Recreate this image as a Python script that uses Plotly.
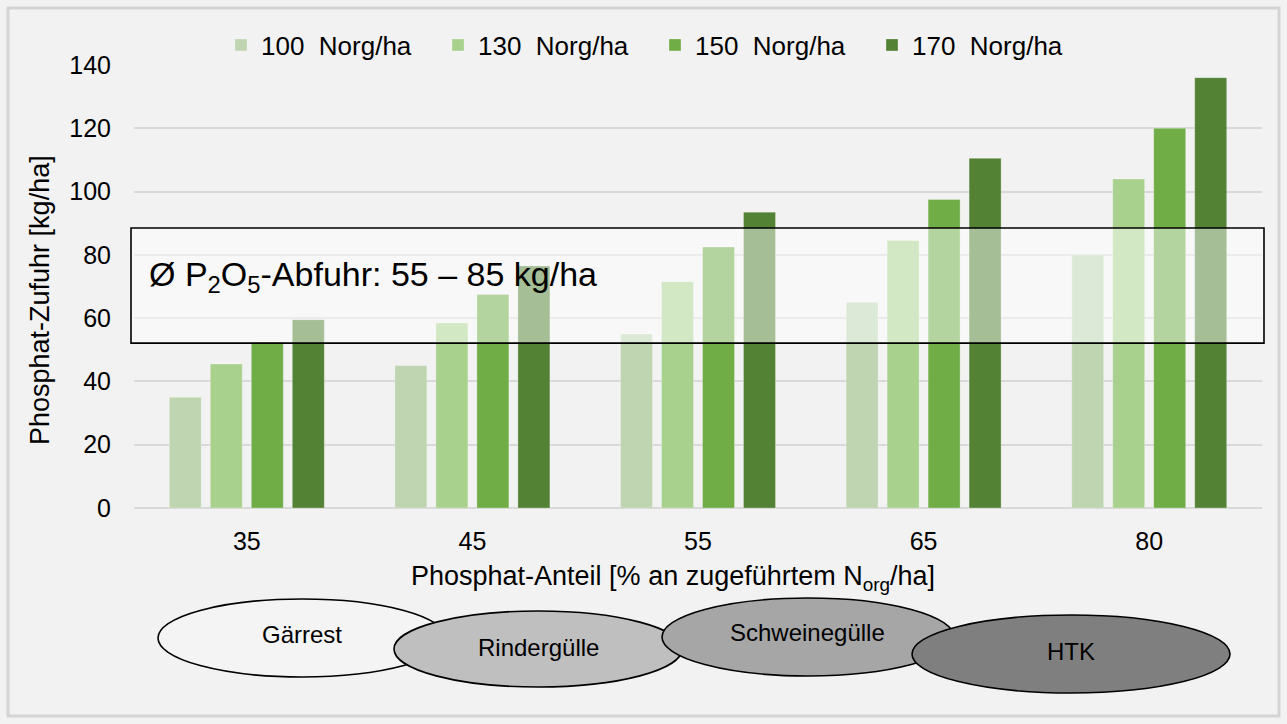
import plotly.graph_objects as go

# ---- data -------------------------------------------------------------
categories = ["35", "45", "55", "65", "80"]          # phosphate share [% of N_org]
series_names = ["100  Norg/ha", "130  Norg/ha", "150  Norg/ha", "170  Norg/ha"]
values_100 = [35, 45, 55, 65, 80]
values_130 = [45.5, 58.5, 71.5, 84.5, 104]
values_150 = [52.5, 67.5, 82.5, 97.5, 120]
values_170 = [59.5, 76.5, 93.5, 110.5, 136]
y_ticks = [0, 20, 40, 60, 80, 100, 120, 140]

band_label = "Ø P<sub>2</sub>O<sub>5</sub>-Abfuhr: 55 – 85 kg/ha"
manure_types = ["Gärrest", "Rindergülle", "Schweinegülle", "HTK"]

# ---- styling ------------------------------------------------------------
FONT = "Liberation Sans, Arial, sans-serif"
BG = "#f2f2f2"
GRID = "#d9d9d9"
bar_colors = ["#bfd5b2", "#a9d18e", "#70ad47", "#548235"]
ellipse_fills = ["#f4f4f4", "#bfbfbf", "#a6a6a6", "#7f7f7f"]

W, H = 1287, 724
PLOT_L, PLOT_R, PLOT_T, PLOT_B = 134, 1262, 65, 508
BAND_Y0, BAND_Y1 = 52.1, 88.5


def px(x):
    """pixel x -> paper x"""
    return (x - PLOT_L) / (PLOT_R - PLOT_L)


def py(y):
    """pixel y (from top) -> paper y"""
    return (PLOT_B - y) / (PLOT_B - PLOT_T)


fig = go.Figure()
for name, vals, col in zip(series_names,
                           [values_100, values_130, values_150, values_170],
                           bar_colors):
    fig.add_trace(go.Bar(x=categories, y=vals, name=name,
                         marker=dict(color=col,
                                     line=dict(width=0.8, color="rgba(255,255,255,0.35)"))))

shapes = []
# outer chart frame
shapes.append(dict(type="rect", xref="paper", yref="paper",
                   x0=px(8), x1=px(1279), y0=py(716), y1=py(8),
                   line=dict(color="#d4d4d4", width=3), layer="below"))
# translucent band for the average P2O5 removal
shapes.append(dict(type="rect", xref="paper", yref="y",
                   x0=px(131), x1=px(1264), y0=BAND_Y0, y1=BAND_Y1,
                   fillcolor="rgba(255,255,255,0.48)",
                   line=dict(color="#000000", width=1.6), layer="above"))

# manure-type ellipses: (cx, cy, rx, ry) in pixels
ellipse_geom = [(302, 638, 144, 39), (538, 649, 144, 38),
                (808, 637, 146, 39), (1071, 654, 159, 39)]
text_dy = [-4, -2, -5, -3]
annotations = []
for label, (cx, cy, rx, ry), fill, dy in zip(manure_types, ellipse_geom,
                                             ellipse_fills, text_dy):
    shapes.append(dict(type="circle", xref="paper", yref="paper",
                       x0=px(cx - rx), x1=px(cx + rx),
                       y0=py(cy + ry), y1=py(cy - ry),
                       fillcolor=fill, line=dict(color="#000000", width=1.6),
                       layer="above"))
    annotations.append(dict(xref="paper", yref="paper", x=px(cx), y=py(cy + dy),
                            text=label, showarrow=False,
                            font=dict(family=FONT, size=24, color="#000000"),
                            xanchor="center", yanchor="middle"))

annotations.append(dict(xref="paper", yref="paper", x=px(147), y=py(276),
                        text=band_label, showarrow=False,
                        font=dict(family=FONT, size=34, color="#000000"),
                        xanchor="left", yanchor="middle"))
annotations.append(dict(xref="paper", yref="paper", x=px(673), y=py(578),
                        text="Phosphat-Anteil [% an zugeführtem N<sub>org</sub>/ha]",
                        showarrow=False,
                        font=dict(family=FONT, size=27, color="#000000"),
                        xanchor="center", yanchor="middle"))
annotations.append(dict(xref="paper", yref="paper", x=px(40), y=py(300),
                        text="Phosphat-Zufuhr [kg/ha]", textangle=-90,
                        showarrow=False,
                        font=dict(family=FONT, size=27, color="#000000"),
                        xanchor="center", yanchor="middle"))

fig.update_layout(
    width=W, height=H,
    margin=dict(l=PLOT_L, r=W - PLOT_R, t=PLOT_T, b=H - PLOT_B, pad=0),
    paper_bgcolor=BG, plot_bgcolor=BG,
    barmode="group", bargap=0.273, bargroupgap=0.22,
    font=dict(family=FONT, size=25, color="#000000"),
    showlegend=True,
    legend=dict(orientation="h", x=px(655), y=py(45),
                xanchor="center", yanchor="middle",
                font=dict(family=FONT, size=26, color="#000000"),
                bgcolor="rgba(0,0,0,0)", itemclick=False,
                entrywidth=172, entrywidthmode="pixels"),
    xaxis=dict(type="category", showgrid=False, zeroline=False,
               showline=False, ticks="", ticklabelstandoff=16,
               tickfont=dict(family=FONT, size=25, color="#000000")),
    yaxis=dict(range=[0, 140], tickvals=y_ticks, showgrid=True,
               gridcolor=GRID, gridwidth=1.5, zeroline=True,
               zerolinecolor=GRID, zerolinewidth=1.5, showline=False,
               ticks="", ticklabelstandoff=22,
               tickfont=dict(family=FONT, size=25, color="#000000")),
    shapes=shapes,
    annotations=annotations,
)

fig.write_html("out.html")
